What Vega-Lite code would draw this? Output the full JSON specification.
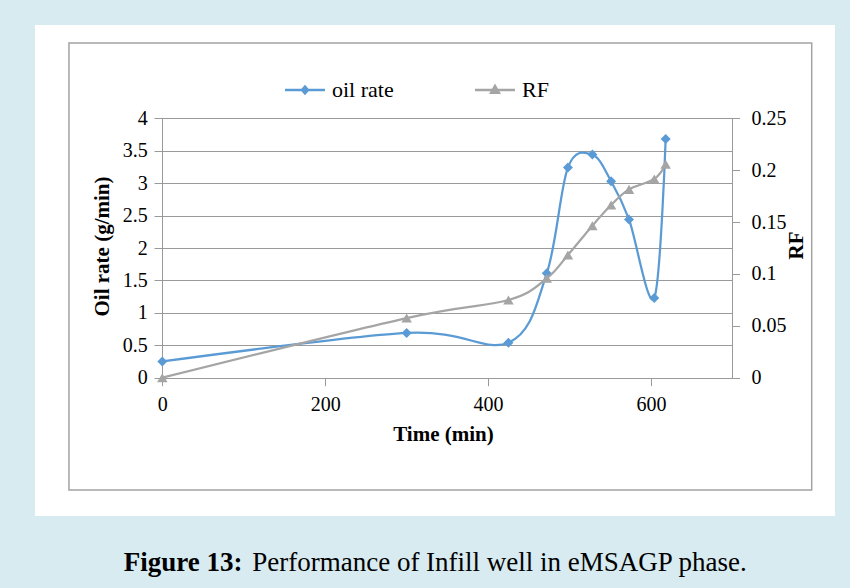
{
  "$schema": "https://vega.github.io/schema/vega-lite/v6.json",
  "width": 800,
  "height": 491,
  "autosize": {"type": "none"},
  "padding": {"left": 35, "top": 25, "right": 15, "bottom": 72},
  "background": "#d7ebf1",
  "view": {"fill": "#ffffff", "stroke": null},
  "config": {
    "view": {"fill": "#ffffff", "stroke": null},
    "axis": {"labelFont": "Liberation Serif", "titleFont": "Liberation Serif", "labelColor": "#000000", "titleColor": "#000000", "labelOverlap": false, "labelFlush": false, "grid": false},
    "legend": {"labelFont": "Liberation Serif"}
  },
  "data": {
    "values": [
      {"time": 0, "oil": 0.25, "rf": 0.0},
      {"time": 300, "oil": 0.69, "rf": 0.0575},
      {"time": 425, "oil": 0.54, "rf": 0.0749},
      {"time": 472, "oil": 1.61, "rf": 0.0958},
      {"time": 498, "oil": 3.24, "rf": 0.1183},
      {"time": 528, "oil": 3.44, "rf": 0.1465},
      {"time": 551, "oil": 3.03, "rf": 0.1664},
      {"time": 573, "oil": 2.44, "rf": 0.1815},
      {"time": 604, "oil": 1.23, "rf": 0.1915},
      {"time": 618, "oil": 3.68, "rf": 0.2057}
    ]
  },
  "layer": [
    {
      "data": {"values": [{}]},
      "mark": {"type": "rect", "fill": null, "filled": false, "stroke": "#a3a3a3", "strokeWidth": 1.5},
      "encoding": {
        "x": {"datum": -114.6, "type": "quantitative", "scale": {"domain": [-156.3, 825.9], "nice": false, "zero": false},
          "axis": {"orient": "bottom", "offset": 0, "ticks": false, "labels": false, "domain": false, "title": "Figure 13:", "titleFontSize": 27, "titleFontWeight": "bold", "titleX": 88.3, "titleY": 54, "titleAlign": "left", "titleBaseline": "alphabetic", "titleAngle": 0}},
        "x2": {"datum": 797.3},
        "y": {"datum": 5.161, "type": "quantitative", "scale": {"domain": [-2.1326, 5.4387], "nice": false, "zero": false}, "axis": null},
        "y2": {"datum": -1.7317}
      }
    },
    {
      "mark": {"type": "point", "filled": true, "shape": "diamond", "size": 100, "color": "#5b9bd5", "opacity": 1},
      "encoding": {
        "x": {"field": "time", "type": "quantitative", "scale": {"domain": [-156.3, 825.9], "nice": false, "zero": false}, "axis": null},
        "y": {"field": "oil", "type": "quantitative", "scale": {"domain": [-2.1326, 5.4387], "nice": false, "zero": false},
          "axis": {"orient": "left", "offset": -119, "values": [0, 0.5, 1, 1.5, 2, 2.5, 3, 3.5, 4], "tickSize": -578.5, "tickColor": "#9a9a9a", "tickWidth": 1, "labels": false, "domain": false, "title": null}}
      }
    },
    {
      "mark": {"type": "line", "interpolate": "cardinal", "color": "#5b9bd5", "strokeWidth": 2.25},
      "encoding": {
        "x": {"field": "time", "type": "quantitative", "scale": {"domain": [-156.3, 825.9], "nice": false, "zero": false},
          "axis": {"orient": "bottom", "offset": -138.3, "values": [0, 200, 400, 600], "format": ".0f", "tickSize": 8, "tickColor": "#9a9a9a", "domain": false, "labelFontSize": 20, "labelPadding": 9, "title": "Time (min)", "titleFontSize": 21, "titleFontWeight": "bold", "titleX": 408, "titleY": 57, "titleAlign": "center", "titleBaseline": "middle", "titleAngle": 0}},
        "y": {"field": "oil", "type": "quantitative", "scale": {"domain": [-2.1326, 5.4387], "nice": false, "zero": false},
          "axis": {"orient": "left", "offset": -127.3, "values": [0, 0.5, 1, 1.5, 2, 2.5, 3, 3.5, 4], "format": ".2~f", "ticks": false, "domain": false, "labelFontSize": 20, "labelPadding": 15, "title": "Oil rate (g/min)", "titleFontSize": 21, "titleFontWeight": "bold", "titleX": -60.3, "titleY": 221, "titleAngle": 270, "titleAlign": "center", "titleBaseline": "middle"}}
      }
    },
    {
      "mark": {"type": "line", "interpolate": "cardinal", "color": "#a5a5a5", "strokeWidth": 2.25},
      "encoding": {
        "x": {"field": "time", "type": "quantitative", "scale": {"domain": [-156.3, 825.9], "nice": false, "zero": false},
          "axis": {"orient": "top", "offset": -93.3, "values": [0, 700], "tickSize": -259.4, "tickColor": "#9a9a9a", "tickWidth": 1, "labels": false, "domain": false, "title": null}},
        "y": {"field": "rf", "type": "quantitative", "scale": {"domain": [-0.13329, 0.33992], "nice": false, "zero": false},
          "axis": {"orient": "right", "offset": -102.5, "values": [0, 0.05, 0.1, 0.15, 0.2, 0.25], "format": ".2~f", "tickSize": 7, "tickColor": "#9a9a9a", "domain": false, "labelFontSize": 20, "labelPadding": 11.5, "title": "RF", "titleFontSize": 21, "titleFontWeight": "bold", "titleX": 63.5, "titleY": 220, "titleAngle": 270, "titleAlign": "center", "titleBaseline": "middle"}}
      }
    },
    {
      "mark": {"type": "point", "filled": true, "shape": "triangle-up", "size": 110, "color": "#a5a5a5", "opacity": 1},
      "encoding": {
        "x": {"field": "time", "type": "quantitative", "scale": {"domain": [-156.3, 825.9], "nice": false, "zero": false},
          "axis": {"orient": "bottom", "offset": 0, "ticks": false, "labels": false, "domain": false, "title": "Performance of Infill well in eMSAGP phase.", "titleFontSize": 27, "titleFontWeight": "normal", "titleX": 216.7, "titleY": 54, "titleAlign": "left", "titleBaseline": "alphabetic", "titleAngle": 0}},
        "y": {"field": "rf", "type": "quantitative", "scale": {"domain": [-0.13329, 0.33992], "nice": false, "zero": false}, "axis": null}
      }
    },
    {
      "transform": [{"filter": "false"}],
      "mark": {"type": "point", "filled": true, "opacity": 1},
      "encoding": {
        "color": {"field": "series", "type": "nominal",
          "scale": {"domain": ["oil rate", "RF"], "range": ["#5b9bd5", "#a5a5a5"]},
          "legend": {"orient": "none", "legendX": 250, "legendY": 45, "direction": "horizontal", "title": null, "labelFontSize": 22, "labelColor": "#000000", "symbolSize": 1600, "symbolStrokeWidth": 0, "symbolOpacity": 1, "labelOffset": 7, "columnPadding": 81}},
        "shape": {"field": "series", "type": "nominal",
          "scale": {"domain": ["oil rate", "RF"], "range": ["M-1,-0.06H-0.177L0,-0.26L0.177,-0.06H1V0.06H0.177L0,0.26L-0.177,0.06H-1Z", "M-1,-0.06H1V0.06H-1Z M0,-0.32L0.3,0.2H-0.3Z"]}}
      }
    }
  ],
  "resolve": {
    "scale": {"x": "independent", "y": "independent", "color": "independent", "shape": "independent"},
    "axis": {"x": "independent", "y": "independent"}
  }
}
